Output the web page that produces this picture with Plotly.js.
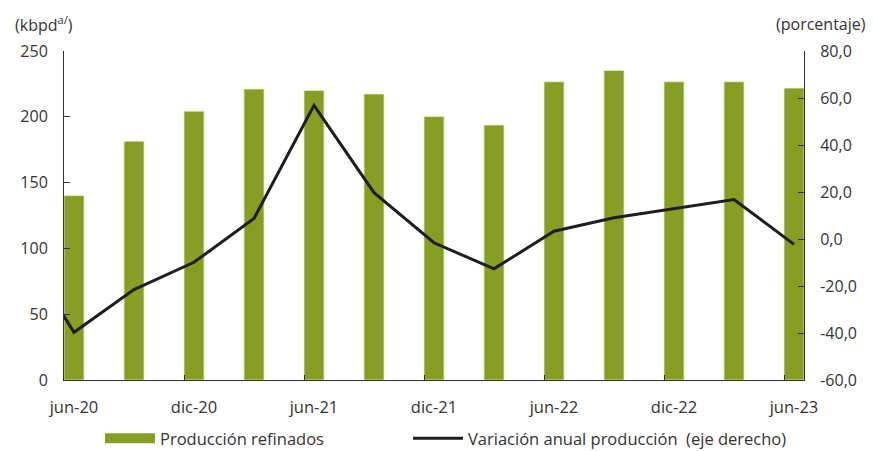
<!DOCTYPE html>
<html>
<head>
<meta charset="utf-8">
<script src="https://cdn.plot.ly/plotly-3.0.1.min.js"></script>
<style>
  html, body { margin: 0; padding: 0; background: #fff; }
  #chart { width: 873px; height: 451px; }
</style>
</head>
<body>
<div id="chart"></div>
<script>
// ---- data ----
const categories = ["jun-20","sep-20","dic-20","mar-21","jun-21","sep-21","dic-21","mar-22","jun-22","sep-22","dic-22","mar-23","jun-23"];
const produccion = [140.1, 181.5, 204.3, 221.1, 220.0, 217.3, 200.2, 193.7, 226.6, 235.2, 226.6, 226.6, 221.8];
const lineCategories = ["mar-20","jun-20","sep-20","dic-20","mar-21","jun-21","sep-21","dic-21","mar-22","jun-22","sep-22","dic-22","mar-23","jun-23"];
const variacion = [1.1, -39.7, -21.5, -9.9, 8.7, 56.9, 19.7, -1.6, -12.7, 3.3, 9.0, 12.9, 16.8, -2.3];
const tickLabels = ["jun-20","dic-20","jun-21","dic-21","jun-22","dic-22","jun-23"];
const leftTicks = [0, 50, 100, 150, 200, 250];
const rightTicks = [-60, -40, -20, 0, 20, 40, 60, 80];
const rightTickText = ["-60,0","-40,0","-20,0","0,0","20,0","40,0","60,0","80,0"];

const barName = "Producción refinados";
const lineName = "Variación anual producción\u00a0 (eje derecho)";

// ---- styling ----
const GREEN = "#879e24";
const LINE = "#1e1e1e";
const TXT = "#333333";
const FONT = "'Open Sans', Lato, sans-serif";
const BAR_W = 1/3;

const xIdx = categories.map((c, i) => i);
// line positions relative to the bar categories (mar-20 is one period before jun-20)
const lineX = lineCategories.map((c, i) => i - 1);
const tickVals = tickLabels.map(l => categories.indexOf(l) - BAR_W / 2);

const traces = [
  {
    type: "bar", x: xIdx, y: produccion, name: barName, width: BAR_W,
    marker: { color: GREEN, line: { color: "#e4ebc2", width: 0.8 } },
    showlegend: false, hoverinfo: "y"
  },
  {
    type: "scatter", mode: "lines", x: lineX, y: variacion, name: lineName,
    yaxis: "y2", line: { color: LINE, width: 3 }, showlegend: false
  },
  // legend entries
  {
    type: "scatter", mode: "lines", x: [null], y: [null], name: barName,
    line: { color: GREEN, width: 10 }, legend: "legend", hoverinfo: "skip"
  },
  {
    type: "scatter", mode: "lines", x: [null], y: [null], name: lineName,
    yaxis: "y2", line: { color: LINE, width: 3 }, legend: "legend2", hoverinfo: "skip"
  }
];

const legendBase = {
  orientation: "h", xanchor: "left", y: -0.125, yanchor: "top",
  itemwidth: 50,
  font: { family: FONT, size: 16.5, color: TXT },
  bgcolor: "rgba(0,0,0,0)", itemclick: false, itemdoubleclick: false
};

const layout = {
  width: 873, height: 451,
  margin: { l: 64, r: 69, t: 51, b: 71, pad: 0, autoexpand: false },
  paper_bgcolor: "#fff", plot_bgcolor: "#fff",
  separators: ",.",
  font: { family: FONT, size: 16, color: TXT },
  showlegend: true,
  xaxis: {
    range: [-BAR_W / 2, categories.length - 1 + BAR_W / 2],
    tickmode: "array", tickvals: tickVals, ticktext: tickLabels,
    ticks: "inside", ticklen: 5, tickwidth: 1, tickcolor: "#333",
    ticklabelshift: 10, ticklabelstandoff: 12,
    showline: true, linecolor: "#333", linewidth: 1,
    showgrid: false, zeroline: false, fixedrange: true,
    tickfont: { family: FONT, size: 16.5, color: TXT }
  },
  yaxis: {
    range: [0, 250], tickmode: "array", tickvals: leftTicks,
    ticks: "inside", ticklen: 6, tickcolor: "#333",
    showline: true, linecolor: "#333", linewidth: 1,
    showgrid: false, zeroline: false, ticklabelstandoff: 12,
    tickfont: { family: FONT, size: 16, color: TXT }
  },
  yaxis2: {
    overlaying: "y", side: "right",
    range: [-60, 80], tickmode: "array", tickvals: rightTicks, ticktext: rightTickText,
    ticks: "inside", ticklen: 6, tickcolor: "#333",
    showline: true, linecolor: "#333", linewidth: 1,
    showgrid: false, zeroline: false, ticklabelstandoff: 12,
    tickfont: { family: FONT, size: 16, color: TXT }
  },
  legend: Object.assign({}, legendBase, { x: 0.0486 }),
  legend2: Object.assign({}, legendBase, { x: 0.4649 }),
  annotations: [
    { text: "(kbpd<sup>a/</sup>)", xref: "paper", yref: "paper", x: -0.069, y: 1.082,
      xanchor: "left", yanchor: "middle", showarrow: false,
      font: { family: FONT, size: 16, color: TXT } },
    { text: "(porcentaje)", xref: "paper", yref: "paper", x: 1.0865, y: 1.082,
      xanchor: "right", yanchor: "middle", showarrow: false,
      font: { family: FONT, size: 16, color: TXT } }
  ]
};

Plotly.newPlot("chart", traces, layout, { displayModeBar: false, staticPlot: true });
</script>
</body>
</html>
